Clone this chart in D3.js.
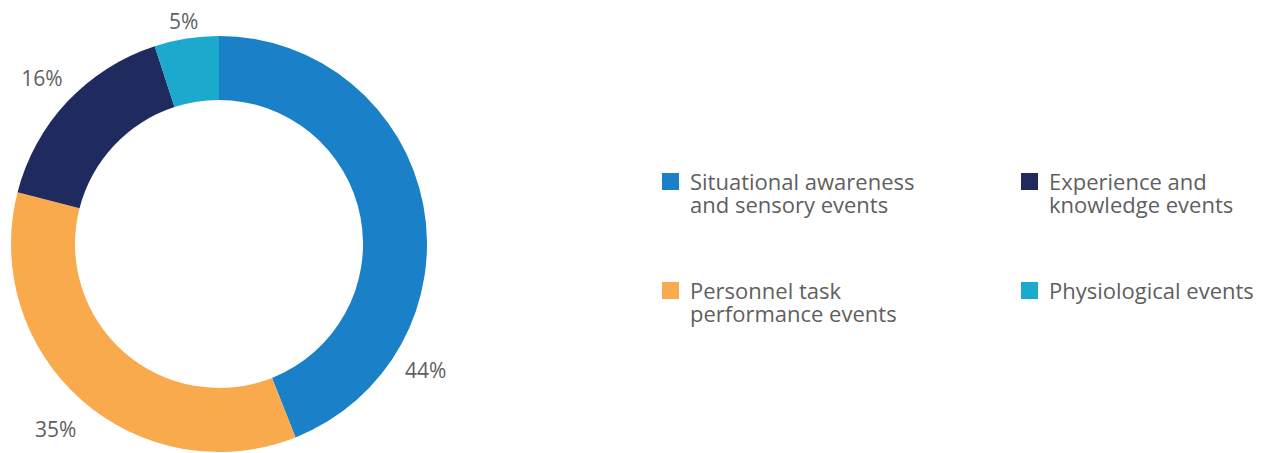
<!DOCTYPE html>
<html><head><meta charset="utf-8">
<script src="https://cdn.jsdelivr.net/npm/d3@7"></script>
<style>body{margin:0;background:#fff}svg{display:block}text{font-family:"Open Sans",sans-serif;fill:#5f5f5f}</style>
</head><body>
<svg id="c" width="1262" height="453"></svg>
<script>
const categories = ["Situational awareness and sensory events","Personnel task performance events","Experience and knowledge events","Physiological events"];
const legendLines = [["Situational awareness","and sensory events"],["Personnel task","performance events"],["Experience and","knowledge events"],["Physiological events"]];
const values = [44, 35, 16, 5];
const valueLabels = ["44%","35%","16%","5%"];
const colors = ["#1a80c8","#f9aa4d","#1f2b5e","#1ba9cd"];

// label placement (layout config)
const labelFrac = [0.766, 0.5, 0.5, 0.5];
const labelRadius = [242, 247, 243, 226];

const svg = d3.select("#c");
const cx = 219, cy = 244, rOuter = 208, rInner = 144;
const pie = d3.pie().sort(null).value(d => d)(values);
const arc = d3.arc().innerRadius(rInner).outerRadius(rOuter);
const g = svg.append("g").attr("transform", `translate(${cx},${cy})`);
g.selectAll("path").data(pie).join("path").attr("d", arc).attr("fill", (d,i) => colors[i]);
const ang = (d,i) => d.startAngle + (d.endAngle-d.startAngle)*labelFrac[i];
g.selectAll("text.lbl").data(pie).join("text").attr("class","lbl")
  .attr("x", (d,i) => Math.sin(ang(d,i))*labelRadius[i])
  .attr("y", (d,i) => -Math.cos(ang(d,i))*labelRadius[i])
  .attr("text-anchor","middle").attr("dominant-baseline","central")
  .style("font-size","21px").text((d,i) => valueLabels[i]);

const legendPos = [[662,173],[662,282],[1021,173],[1021,282]];
const lg = svg.append("g");
legendLines.forEach((lines, i) => {
  const [x,y] = legendPos[i];
  lg.append("rect").attr("x",x).attr("y",y).attr("width",17).attr("height",17).attr("fill",colors[i]);
  const t = lg.append("text").attr("x", x+28).attr("y", y+17).style("font-size","22px");
  lines.forEach((l,j) => t.append("tspan").attr("x", x+28).attr("dy", j===0?0:23).text(l));
});
</script>
</body></html>
